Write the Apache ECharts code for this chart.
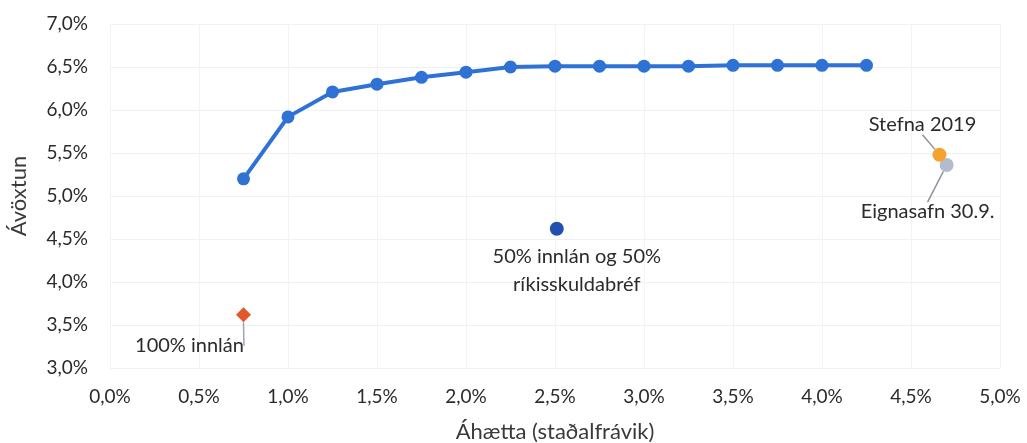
<!DOCTYPE html>
<html>
<head>
<meta charset="utf-8">
<script src="https://cdn.jsdelivr.net/npm/echarts@6/dist/echarts.min.js"></script>
<style>
  html, body { margin: 0; padding: 0; background: #fff; }
  #chart { width: 1027px; height: 443px; }
</style>
</head>
<body>
<div id="chart"></div>
<script>
// efficient frontier (áhætta, ávöxtun) in %
const frontierRisk = [0.75, 1.0, 1.25, 1.5, 1.75, 2.0, 2.25, 2.5, 2.75, 3.0, 3.25, 3.5, 3.75, 4.0, 4.25];
const frontierReturn = [5.20, 5.92, 6.21, 6.30, 6.38, 6.44, 6.50, 6.51, 6.51, 6.51, 6.51, 6.52, 6.52, 6.52, 6.52];

// single portfolios
const pointNames = ['100% innlán', '50% innlán og 50%\nríkisskuldabréf', 'Stefna 2019', 'Eignasafn 30.9.'];
const pointRisk = [0.75, 2.51, 4.66, 4.70];
const pointReturn = [3.62, 4.62, 5.48, 5.36];

const fmt = v => v.toFixed(1).replace('.', ',') + '%';
const font = 'Lato, "Noto Sans", sans-serif';
const labelText = { fontSize: 20, color: '#2b2b2b', fontFamily: font };

let chart = echarts.init(document.getElementById('chart'));

chart.setOption({
    animation: false,
    textStyle: { fontFamily: font },
    grid: { left: 110, right: 27, top: 24, bottom: 75, outerBoundsMode: 'none', containLabel: false },
    xAxis: {
        type: 'value',
        min: 0, max: 5, interval: 0.5,
        name: 'Áhætta (staðalfrávik)',
        nameLocation: 'middle',
        nameGap: 53,
        nameTextStyle: { fontSize: 22, color: '#3a3a3a', fontFamily: font },
        axisLine: { show: false },
        axisTick: { show: false },
        axisLabel: { formatter: fmt, fontSize: 19, color: '#2b2b2b', margin: 19, fontFamily: font },
        splitLine: { show: true, lineStyle: { color: '#f1f3f7', width: 1 } }
    },
    yAxis: {
        type: 'value',
        min: 3, max: 7, interval: 0.5,
        name: 'Ávöxtun',
        nameLocation: 'middle',
        nameGap: 80,
        nameTextStyle: { fontSize: 22, color: '#3a3a3a', fontFamily: font },
        axisLine: { show: false },
        axisTick: { show: false },
        axisLabel: { formatter: fmt, fontSize: 19, color: '#2b2b2b', margin: 22, fontFamily: font },
        splitLine: { show: true, lineStyle: { color: '#eef0f4', width: 1 } }
    },
    series: [
        {
            name: 'Frontier',
            type: 'line',
            data: frontierRisk.map((x, i) => [x, frontierReturn[i]]),
            symbol: 'circle',
            symbolSize: 13,
            lineStyle: { color: '#2f72d6', width: 4 },
            itemStyle: { color: '#2f72d6' },
            z: 3
        },
        {
            name: pointNames[0],
            type: 'scatter',
            symbol: 'diamond',
            symbolSize: 15,
            itemStyle: { color: '#e2572b', opacity: 1 },
            data: [[pointRisk[0], pointReturn[0]]],
            label: Object.assign({ show: true, formatter: pointNames[0], position: 'inside' }, labelText),
            labelLayout: { dx: -54, dy: 31 },
            labelLine: { show: true, lineStyle: { color: '#9aa6bd', width: 1.5 } }
        },
        {
            name: pointNames[1],
            type: 'scatter',
            symbol: 'circle',
            symbolSize: 14,
            itemStyle: { color: '#2150b0', opacity: 1 },
            data: [[pointRisk[1], pointReturn[1]]],
            label: Object.assign({
                show: true, formatter: pointNames[1], position: 'inside',
                lineHeight: 28, align: 'center'
            }, labelText),
            labelLayout: { dx: 20, dy: 42 }
        },
        {
            name: pointNames[2],
            type: 'scatter',
            symbol: 'circle',
            symbolSize: 14,
            itemStyle: { color: '#f6a22f', opacity: 1 },
            data: [[pointRisk[2], pointReturn[2]]],
            label: Object.assign({ show: true, formatter: pointNames[2], position: 'inside' }, labelText),
            labelLayout: { dx: -17, dy: -30 },
            labelLine: { show: true, lineStyle: { color: '#8a8f99', width: 1.5 } },
            z: 4
        },
        {
            name: pointNames[3],
            type: 'scatter',
            symbol: 'circle',
            symbolSize: 14,
            itemStyle: { color: '#b3bccd', opacity: 1 },
            data: [[pointRisk[3], pointReturn[3]]],
            label: Object.assign({ show: true, formatter: pointNames[3], position: 'inside' }, labelText),
            labelLayout: { dx: -19, dy: 47 },
            labelLine: { show: true, lineStyle: { color: '#8a8f99', width: 1.5 } },
            z: 3
        }
    ]
});
</script>
</body>
</html>
